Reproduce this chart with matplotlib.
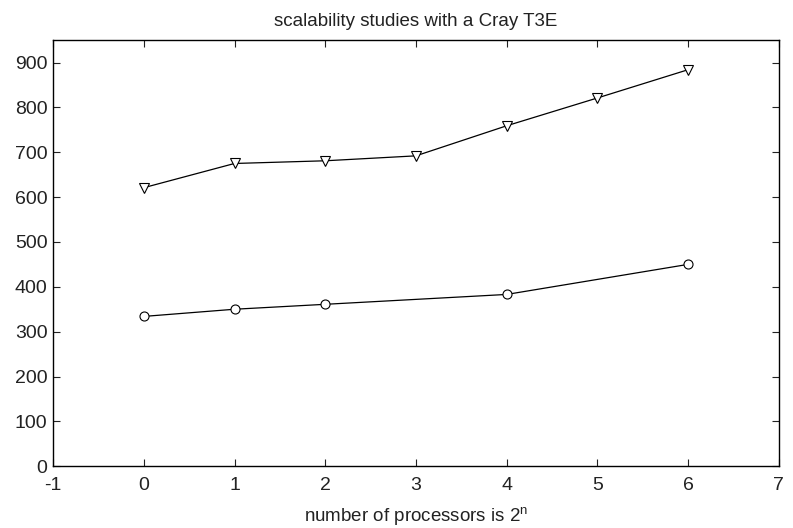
import matplotlib
matplotlib.use("Agg")
import matplotlib.pyplot as plt

# data
n_tri = [0, 1, 2, 3, 4, 5, 6]
t_tri = [621, 675, 681, 692, 759, 821, 884]

n_circ = [0, 1, 2, 4, 6]
t_circ = [334, 350, 361, 383, 450]

plt.rcParams["font.family"] = ["Liberation Sans", "DejaVu Sans"]
plt.rcParams["axes.unicode_minus"] = False

fig = plt.figure(figsize=(7.93, 5.28), dpi=100)
ax = fig.add_axes([0.067, 0.117, 0.915, 0.807])

ax.plot(n_tri, t_tri, color="k", lw=0.9, marker="v", ms=7.5,
        mfc="white", mec="k", mew=0.8)
ax.plot(n_circ, t_circ, color="k", lw=0.9, marker="o", ms=6.5,
        mfc="white", mec="k", mew=0.8)

ax.set_xlim(-1, 7)
ax.set_ylim(0, 950)
ax.set_xticks(range(-1, 8))
ax.set_yticks(range(0, 901, 100))
ax.tick_params(direction="in", top=True, right=True, labelsize=14,
               length=5, width=0.8, colors="#222222")
ax.tick_params(axis="x", pad=8)
ax.tick_params(axis="y", pad=4)
for s in ax.spines.values():
    s.set_linewidth(1.0)

ax.set_title("scalability studies with a Cray T3E", fontsize=13.5,
             color="#222222", pad=10)
ax.set_xlabel("number of processors is 2$^\\mathregular{n}$", fontsize=13.5,
              color="#222222", labelpad=8)

fig.savefig("out.png", dpi=100)
